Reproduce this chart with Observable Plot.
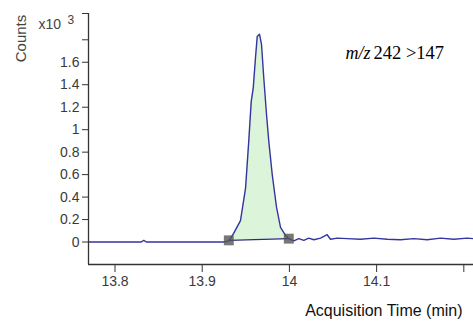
<!DOCTYPE html>
<html><head><meta charset="utf-8">
<script src="https://cdn.jsdelivr.net/npm/d3@7"></script>
<script src="https://cdn.jsdelivr.net/npm/@observablehq/plot@0.6"></script>
<style>body{margin:0;background:#fff}#chart svg{display:block}</style>
</head><body><div id="chart"></div>
<script>
// Chromatogram trace: acquisition time (min) and counts (x10^3)
const time = [13.7696, 13.830, 13.833, 13.836, 13.925, 13.9305, 13.9359, 13.9439, 13.9497, 13.9534, 13.9562, 13.9585, 13.9611, 13.9631, 13.9657, 13.968, 13.9706, 13.9737, 13.9763, 13.9803, 13.9852, 13.9898, 13.9955, 13.9993, 14.0050, 14.0108, 14.0165, 14.0222, 14.0280, 14.0357, 14.0433, 14.0471, 14.0548, 14.0663, 14.0815, 14.0968, 14.1122, 14.1274, 14.1427, 14.1580, 14.1733, 14.1885, 14.2039, 14.2111];
const counts = [0, 0, 0.015, 0, 0, 0.01, 0.075, 0.19, 0.48, 0.90, 1.25, 1.37, 1.64, 1.83, 1.85, 1.76, 1.46, 1.14, 0.90, 0.60, 0.31, 0.13, 0.06, 0.03, 0.01, 0.03, 0.015, 0.035, 0.02, 0.035, 0.065, 0.025, 0.035, 0.03, 0.025, 0.035, 0.025, 0.02, 0.03, 0.02, 0.035, 0.025, 0.035, 0.03];
// Integration window (start / end markers)
const integTime = [13.9305, 13.9993];
const integCounts = [0.015, 0.03];
// Axes
const xTicks = [13.8, 13.9, 14.0, 14.1, 14.2];
const xTickLabels = ["13.8", "13.9", "14", "14.1", ""];
const yTicks = [0, 0.2, 0.4, 0.6, 0.8, 1.0, 1.2, 1.4, 1.6, 1.8, 2.034];
const yTickLabels = ["0", "0.2", "0.4", "0.6", "0.8", "1", "1.2", "1.4", "1.6", "", ""];
const xDomain = [13.7696, 14.2111];
const yDomain = [-0.2, 2.034];
const yLabel = "Counts";
const yScaleLabel = "x10";
const yScaleExp = "3";
const xLabel = "Acquisition Time (min)";
const titleItalic = "m/z";
const titleRest = "242 >147";

const trace = time.map((t, i) => ({t, c: counts[i]}));
const integ = integTime.map((t, i) => ({t, c: integCounts[i]}));
const baseAt = t => integCounts[0] + (t - integTime[0]) / (integTime[1] - integTime[0]) * (integCounts[1] - integCounts[0]);
const peak = trace.filter(d => d.t >= integTime[0] && d.t <= integTime[1]).map(d => ({t: d.t, c: d.c, b: baseAt(d.t)}));

const sans = "'Liberation Sans', Arial, sans-serif";
const serif = "'Liberation Serif', 'Times New Roman', serif";

// pixel helpers for placing labels in the margins
const W = 473, H = 323, mL = 88, mR = 0, mT = 13, mB = 59;
const xPx = px => xDomain[0] + (px - mL) / (W - mL - mR) * (xDomain[1] - xDomain[0]);
const yPx = py => yDomain[1] - (py - mT) / (H - mT - mB) * (yDomain[1] - yDomain[0]);

const chart = Plot.plot({
  width: W,
  height: H,
  marginLeft: mL,
  marginRight: mR,
  marginTop: mT,
  marginBottom: mB,
  style: {background: "#fff", fontFamily: sans, overflow: "visible"},
  x: {domain: xDomain},
  y: {domain: yDomain},
  marks: [
    Plot.areaY(peak, {x: "t", y1: "b", y2: "c", fill: "#dcf5da", fillOpacity: 1}),
    Plot.line(integ, {x: "t", y: "c", stroke: "#2a2a80", strokeWidth: 1.4}),
    Plot.line(trace, {x: "t", y: "c", stroke: "#3535a0", strokeWidth: 1.4, curve: "linear"}),
    Plot.dot(integ, {x: "t", y: "c", symbol: "square", r: 5.6, fill: "#555", fillOpacity: 0.8, stroke: "none"}),
    Plot.ruleX([xDomain[0]], {stroke: "#333", strokeWidth: 1.3}),
    Plot.ruleY([yDomain[0]], {stroke: "#333", strokeWidth: 1.3}),
    Plot.axisX({ticks: xTicks, tickFormat: (d, i) => xTickLabels[i], tickSize: 8, tickPadding: 4, fontSize: 14, label: null, color: "#3a3a3a", stroke: "#333"}),
    Plot.axisY({ticks: yTicks, tickFormat: (d, i) => yTickLabels[i], tickSize: 6, tickPadding: 3, fontSize: 14, label: null, color: "#3a3a3a", stroke: "#333"}),
    Plot.text([yLabel], {x: xPx(21), y: yPx(38), rotate: -90, fontSize: 15, fill: "#444", fontFamily: sans}),
    Plot.text([yScaleLabel], {x: xPx(38), y: yPx(24), textAnchor: "start", fontSize: 14, fill: "#444", fontFamily: sans}),
    Plot.text([yScaleExp], {x: xPx(67), y: yPx(20), textAnchor: "start", fontSize: 12, fill: "#444", fontFamily: sans}),
    Plot.text([titleItalic], {x: xPx(345), y: yPx(53), textAnchor: "start", fontSize: 18, fontStyle: "italic", fill: "#000", fontFamily: serif}),
    Plot.text([titleRest], {x: xPx(373), y: yPx(53), textAnchor: "start", fontSize: 18.5, fill: "#000", fontFamily: serif}),
    Plot.text([xLabel], {x: xPx(462), y: yPx(310), textAnchor: "end", fontSize: 16, fill: "#111", fontFamily: sans})
  ]
});
document.getElementById("chart").appendChild(chart);
</script></body></html>
